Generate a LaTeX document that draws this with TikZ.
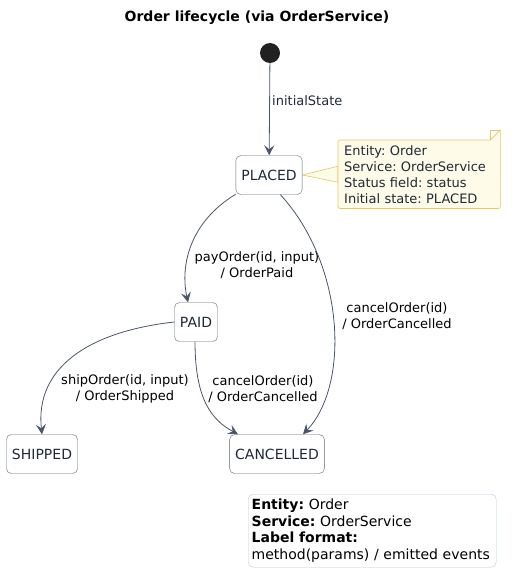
\documentclass[tikz,border=0pt]{standalone}
\usepackage{fontspec}
\setmainfont{DejaVu Sans}
\usepackage{xcolor}
\usetikzlibrary{arrows.meta,backgrounds}

\definecolor{edgecol}{HTML}{4A5568}
\definecolor{boxcol}{HTML}{5F6673}
\definecolor{txtcol}{HTML}{1F2937}
\definecolor{notefill}{HTML}{FEFBE8}
\definecolor{notedraw}{HTML}{E6C766}
\definecolor{legdraw}{HTML}{B4CBE0}

\begin{document}
\frenchspacing
\begin{tikzpicture}[x=1pt,y=-1pt,
    state/.style={draw=boxcol,fill=white,rounded corners=5pt,text=txtcol,
      font=\fontsize{14}{16}\selectfont,minimum height=39pt,inner xsep=5.5pt},
    trans/.style={draw=edgecol,line width=0.8pt,
      -{Stealth[length=10pt,width=10pt,inset=4pt]}},
    lbl/.style={font=\fontsize{13}{15.5}\selectfont,align=center,inner sep=1pt}]

    \useasboundingbox (0,0) rectangle (514,588);

    % Title
    \node[font=\fontsize{14}{16}\selectfont\bfseries] (title) at (257,18)
      {Order lifecycle (via OrderService)};

    % Initial state
    \node[circle,fill=black!87,minimum size=20pt,inner sep=0pt] (start) at (270,53) {};

    % States
    \node[state] (placed) at (269,175) {PLACED};
    \node[state] (paid) at (196,322) {PAID};
    \node[state] (shipped) at (42,454) {SHIPPED};
    \node[state] (cancelled) at (277,454) {CANCELLED};

    % Note
    \node[anchor=north west,text width=150pt,align=left,inner xsep=6pt,inner ysep=5pt,
      font=\fontsize{13}{16}\selectfont,text=txtcol] (note) at (338,140)
      {Entity: Order\\Service: OrderService\\Status field: status\\Initial state: PLACED};
    \begin{pgfonlayer}{background}
      \draw[notedraw,fill=notefill,line width=0.6pt]
        (placed.east) -- ([yshift=-8pt]note.west) -- ([yshift=8pt]note.west) -- cycle;
      \draw[notedraw,fill=notefill,line width=0.6pt,rounded corners=2pt]
        (note.north west) [sharp corners] -- ([xshift=-10pt]note.north east)
        -- ([yshift=10pt]note.north east) [rounded corners=2pt]
        -- (note.south east) -- (note.south west) -- cycle;
      \draw[notedraw,line width=0.6pt]
        ([xshift=-10pt]note.north east) -- ([xshift=-10pt,yshift=10pt]note.north east)
        -- ([yshift=10pt]note.north east);
    \end{pgfonlayer}

    % Transitions
    \draw[trans] (start) -- (placed);
    \node[lbl,anchor=west,text=txtcol] (initlbl) at (271,101) {initialState};

    \draw[trans] (placed.-150) .. controls (190,222) and (180,265) .. (paid.north -| 188,0);
    \node[lbl] (paylbl) at (257,265) {payOrder(id, input)\\/ OrderPaid};

    \draw[trans] (placed.-60) .. controls (345,265) and (350,385) .. (cancelled.north -| 303,0);
    \node[lbl] (cancel1lbl) at (397,316) {cancelOrder(id)\\/ OrderCancelled};

    \draw[trans] (paid.west) .. controls (85,332) and (35,370) .. (shipped.north);
    \node[lbl] (shiplbl) at (125,389) {shipOrder(id, input)\\/ OrderShipped};

    \draw[trans] (paid.south -| 195,0) .. controls (195,400) and (212,420) .. (cancelled.north -| 238,0);
    \node[lbl] (cancel2lbl) at (263,389) {cancelOrder(id)\\/ OrderCancelled};

    % Legend
    \node[anchor=north west,draw=legdraw,rounded corners=5pt,text width=241pt,align=left,
      inner xsep=3.5pt,inner ysep=5pt,font=\fontsize{14}{16.5}\selectfont] (legend) at (248,494)
      {\textbf{Entity:} Order\\\textbf{Service:} OrderService\\\textbf{Label format:}\\method(params) / emitted events};

\end{tikzpicture}
\end{document}
